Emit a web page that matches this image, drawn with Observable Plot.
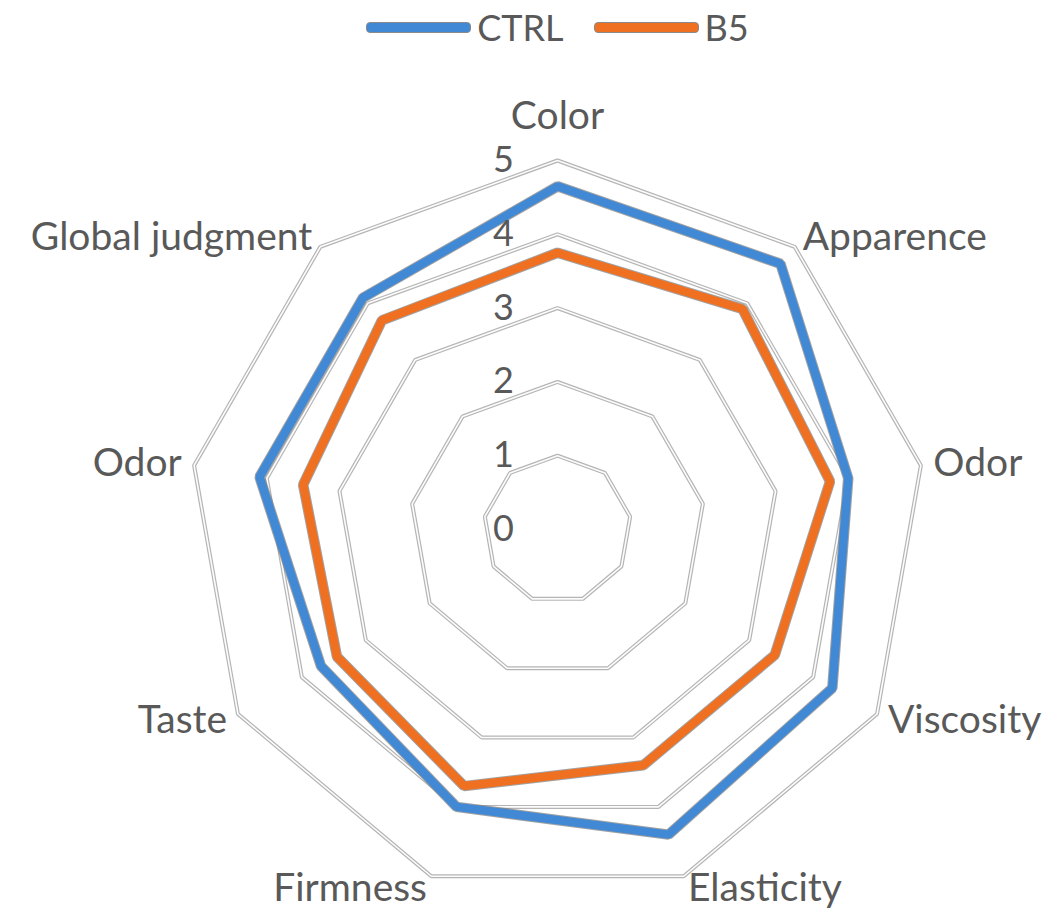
<!DOCTYPE html>
<html>
<head>
<meta charset="utf-8">
<script src="https://cdn.jsdelivr.net/npm/d3@7"></script>
<script src="https://cdn.jsdelivr.net/npm/@observablehq/plot@0.6"></script>
<style>
  body { margin: 0; background: #fff; font-family: Lato, "Open Sans", sans-serif; }
  #legend { height: 54px; display: flex; justify-content: center; align-items: center; padding-left: 64px; box-sizing: border-box; width: 1051px; }
  .item { display: flex; align-items: center; margin: 0 15px; }
  .swatch { width: 103px; height: 9px; border: 1px solid #8a8a8a; border-radius: 4px; margin-right: 6px; }
  .lbl { font-size: 36px; color: #595959; line-height: 1; }
</style>
</head>
<body>
<div id="legend"></div>
<div id="chart"></div>
<script>
// ---- data ----
const axes = ["Color", "Apparence", "Odor", "Viscosity", "Elasticity", "Firmness", "Taste", "Odor", "Global judgment"];
const ctrlValues = [4.65, 4.7, 4.0, 4.3, 4.4, 4.0, 3.7, 4.1, 4.1];
const b5Values = [3.75, 3.9, 3.75, 3.4, 3.4, 3.7, 3.45, 3.5, 3.7];
const seriesNames = ["CTRL", "B5"];
const seriesColors = ["#4189d4", "#f07022"];
const tickValues = [0, 1, 2, 3, 4, 5];
const ringLevels = [1, 2, 3, 4, 5];

// ---- helpers ----
const n = axes.length;
const angle = i => (i * 2 * Math.PI) / n;
const px = (r, i) => r * Math.sin(angle(i));
const py = (r, i) => r * Math.cos(angle(i));

const ringData = ringLevels.flatMap(level => axes.map((a, i) => ({level, x: px(level, i), y: py(level, i)})));
const seriesValues = [ctrlValues, b5Values];
const seriesData = seriesNames.map((s, k) => seriesValues[k].map((v, i) => ({series: s, x: px(v, i), y: py(v, i)})));

const labelData = axes.map((name, i) => {
  const s = Math.sin(angle(i));
  const side = Math.abs(s) < 1e-6 ? "top" : s > 0 ? "right" : "left";
  const r = side === "top" ? 5.6 : 5.17;
  return {name, side, x: px(r, i), y: py(r, i)};
});

// ---- legend ----
const legend = document.getElementById("legend");
seriesNames.forEach((s, k) => {
  const item = document.createElement("div");
  item.className = "item";
  item.innerHTML = `<span class="swatch" style="background:${seriesColors[k]}"></span><span class="lbl">${s}</span>`;
  legend.appendChild(item);
});

// ---- chart ----
const R = 6, unit = 73.8, cx = 557, cy = 475;
const textColor = "#595959";
const chart = Plot.plot({
  width: 1051,
  height: 856,
  margin: 0,
  x: {domain: [-R, R], range: [cx - R * unit, cx + R * unit], axis: null},
  y: {domain: [-R, R], range: [cy + R * unit, cy - R * unit], axis: null},
  color: {domain: seriesNames, range: seriesColors},
  style: {fontFamily: "Lato, 'Open Sans', sans-serif", background: "white", color: textColor},
  marks: [
    Plot.line(ringData, {x: "x", y: "y", z: "level", curve: "linear-closed", stroke: "#b5b5b5", strokeWidth: 4, strokeLinejoin: "miter"}),
    Plot.line(ringData, {x: "x", y: "y", z: "level", curve: "linear-closed", stroke: "#fcfcfc", strokeWidth: 1.6, strokeLinejoin: "miter"}),
    ...seriesData.flatMap(d => [
      Plot.line(d, {x: "x", y: "y", curve: "linear-closed", stroke: "#7a7a7a", strokeWidth: 10.5, strokeOpacity: 0.7, strokeLinejoin: "miter"}),
      Plot.line(d, {x: "x", y: "y", curve: "linear-closed", stroke: "series", strokeWidth: 8.5, strokeLinejoin: "miter"})
    ]),
    Plot.text(tickValues, {x: () => 0, y: d => d, text: d => String(d), dx: -54, fontSize: 36, fill: textColor, lineAnchor: "middle"}),
    Plot.text(labelData.filter(d => d.side === "top"), {x: "x", y: "y", text: "name", textAnchor: "middle", lineAnchor: "middle", fontSize: 39, fill: textColor}),
    Plot.text(labelData.filter(d => d.side === "right"), {x: "x", y: "y", text: "name", textAnchor: "start", lineAnchor: "middle", fontSize: 39, fill: textColor}),
    Plot.text(labelData.filter(d => d.side === "left"), {x: "x", y: "y", text: "name", textAnchor: "end", lineAnchor: "middle", fontSize: 39, fill: textColor})
  ]
});
document.getElementById("chart").appendChild(chart);
</script>
</body>
</html>
